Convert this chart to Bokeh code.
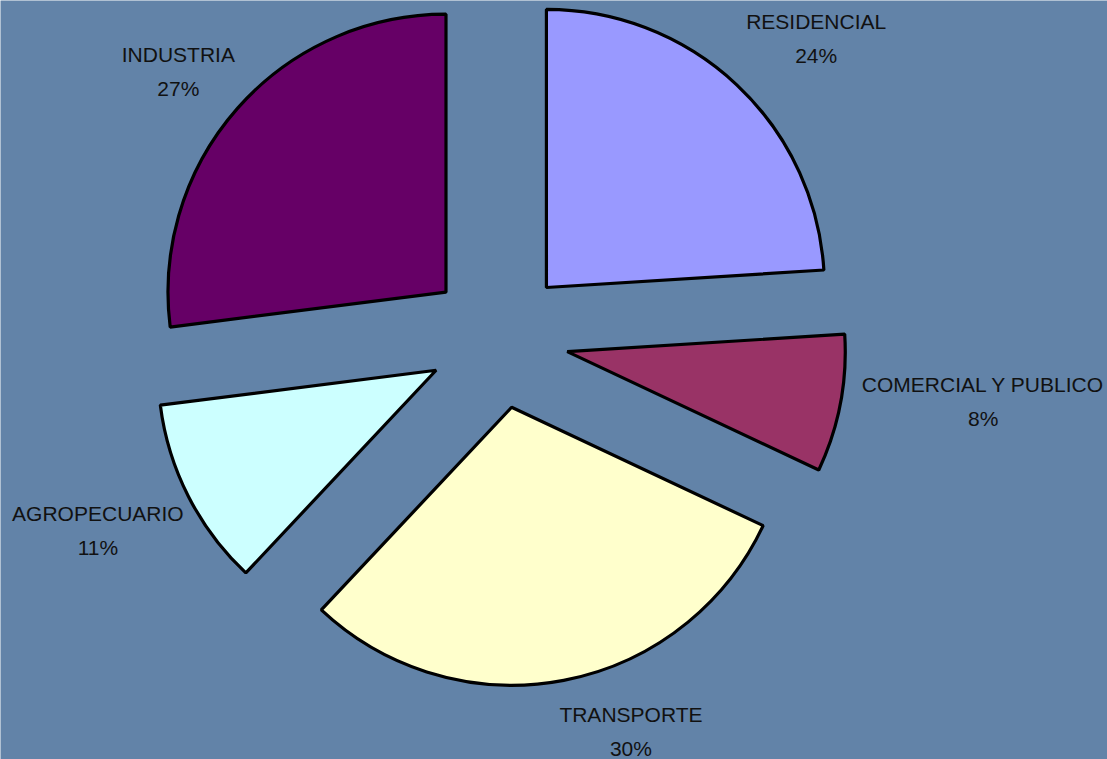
import math
from bokeh.plotting import figure
from bokeh.models import Range1d, ColumnDataSource
from bokeh.embed import file_html
from bokeh.resources import INLINE
from bokeh.core.properties import value

# ---- data ----
categories = ["RESIDENCIAL", "COMERCIAL Y PUBLICO", "TRANSPORTE", "AGROPECUARIO", "INDUSTRIA"]
shares = [24, 8, 30, 11, 27]
pct_labels = ["24%", "8%", "30%", "11%", "27%"]

# ---- styles / layout ----
colors = ["#9999FF", "#993366", "#FFFFCC", "#CCFFFF", "#660066"]
BG = "#6283a8"
W, H = 1107, 759
CX, CY = 498, H - 338        # pie centre (y up)
R = 278                      # radius
EXPLODE = 70                 # explosion distance
LABEL_D = 375
CHAR_W = 13
BOX_H = 60
# small manual nudges of label boxes (screen px: dx, dy)
nudges = [(12, -5), (-5, -13), (50, -5), (3, 8), (5, 1)]

total = float(sum(shares))
starts, ends, xs, ys = [], [], [], []
lx, ly_name, ly_pct = [], [], []
cum = 0.0
for i, s in enumerate(shares):
    a0 = 90 - cum / total * 360
    cum += s
    a1 = 90 - cum / total * 360
    starts.append(a1)
    ends.append(a0)
    bis = math.radians((a0 + a1) / 2)
    ux, uy = math.cos(bis), math.sin(bis)
    xs.append(CX + EXPLODE * ux)
    ys.append(CY + EXPLODE * uy)
    w = CHAR_W * len(categories[i])
    px = CX + LABEL_D * ux + w / 2 * ux + nudges[i][0]
    py = CY + LABEL_D * uy + BOX_H / 2 * uy - nudges[i][1]
    lx.append(px)
    ly_name.append(py + 17)
    ly_pct.append(py - 17)

src = ColumnDataSource(dict(x=xs, y=ys, start=starts, end=ends, color=colors,
                            name=categories, pct=pct_labels,
                            lx=lx, lyn=ly_name, lyp=ly_pct))

p = figure(width=W, height=H, output_backend="svg", toolbar_location=None,
           x_range=Range1d(0, W), y_range=Range1d(0, H),
           min_border=0)
p.axis.visible = False
p.grid.visible = False
p.outline_line_color = None
p.background_fill_color = BG
p.border_fill_color = BG

p.wedge(x="x", y="y", radius=R, start_angle="start", end_angle="end",
        start_angle_units="deg", end_angle_units="deg",
        fill_color="color", line_color="black", line_width=3.2, source=src)

p.text(x="lx", y="lyn", text="name", source=src, text_align="center",
       text_baseline="middle", text_font=value("Liberation Sans"),
       text_font_size="21px", text_color="#111111")
p.text(x="lx", y="lyp", text="pct", source=src, text_align="center",
       text_baseline="middle", text_font=value("Liberation Sans"),
       text_font_size="21px", text_color="#111111")

open("out.html", "w").write(file_html(p, INLINE))
